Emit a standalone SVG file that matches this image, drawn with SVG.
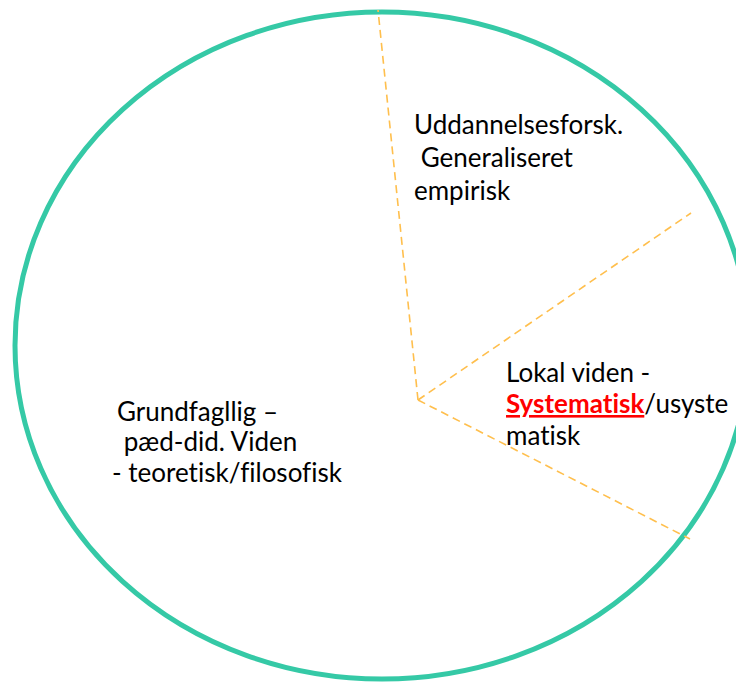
<svg xmlns="http://www.w3.org/2000/svg" width="736" height="683" viewBox="0 0 736 683">
<style>
.t{font-family:Lato,"Liberation Sans",sans-serif;font-size:26px;fill:#000;font-variant-ligatures:none}
.red{fill:#FF0000;font-weight:bold;text-decoration:underline}
.dash{fill:none;stroke:#FFBF4D;stroke-width:1.6;stroke-dasharray:8 5}
</style>
<rect width="736" height="683" fill="#fff"/>
<g id="circle">
<ellipse cx="382" cy="345.5" rx="367" ry="333.5" fill="none" stroke="#35C9A6" stroke-width="5"/>
</g>
<g id="connectors">
<line class="dash" x1="418" y1="400" x2="378" y2="10"/>
<line class="dash" x1="418" y1="400" x2="691" y2="213"/>
<line class="dash" x1="418" y1="400" x2="690" y2="539"/>
</g>
<g id="node-udd">
<text class="t" x="414" y="134">Uddannelsesforsk.</text>
<text class="t" x="414" y="167" xml:space="preserve"> Generaliseret</text>
<text class="t" x="414" y="200">empirisk</text>
</g>
<g id="node-lokal">
<text class="t" x="506" y="382">Lokal viden -</text>
<text class="t" x="506" y="413"><tspan class="red">Systematisk</tspan>/usyste</text>
<text class="t" x="506" y="445">matisk</text>
</g>
<g id="node-grund">
<text class="t" x="117" y="421">Grundfagllig –</text>
<text class="t" x="117" y="451" xml:space="preserve"> pæd-did. Viden</text>
<text class="t" x="112" y="482">- teoretisk/filosofisk</text>
</g>
</svg>
